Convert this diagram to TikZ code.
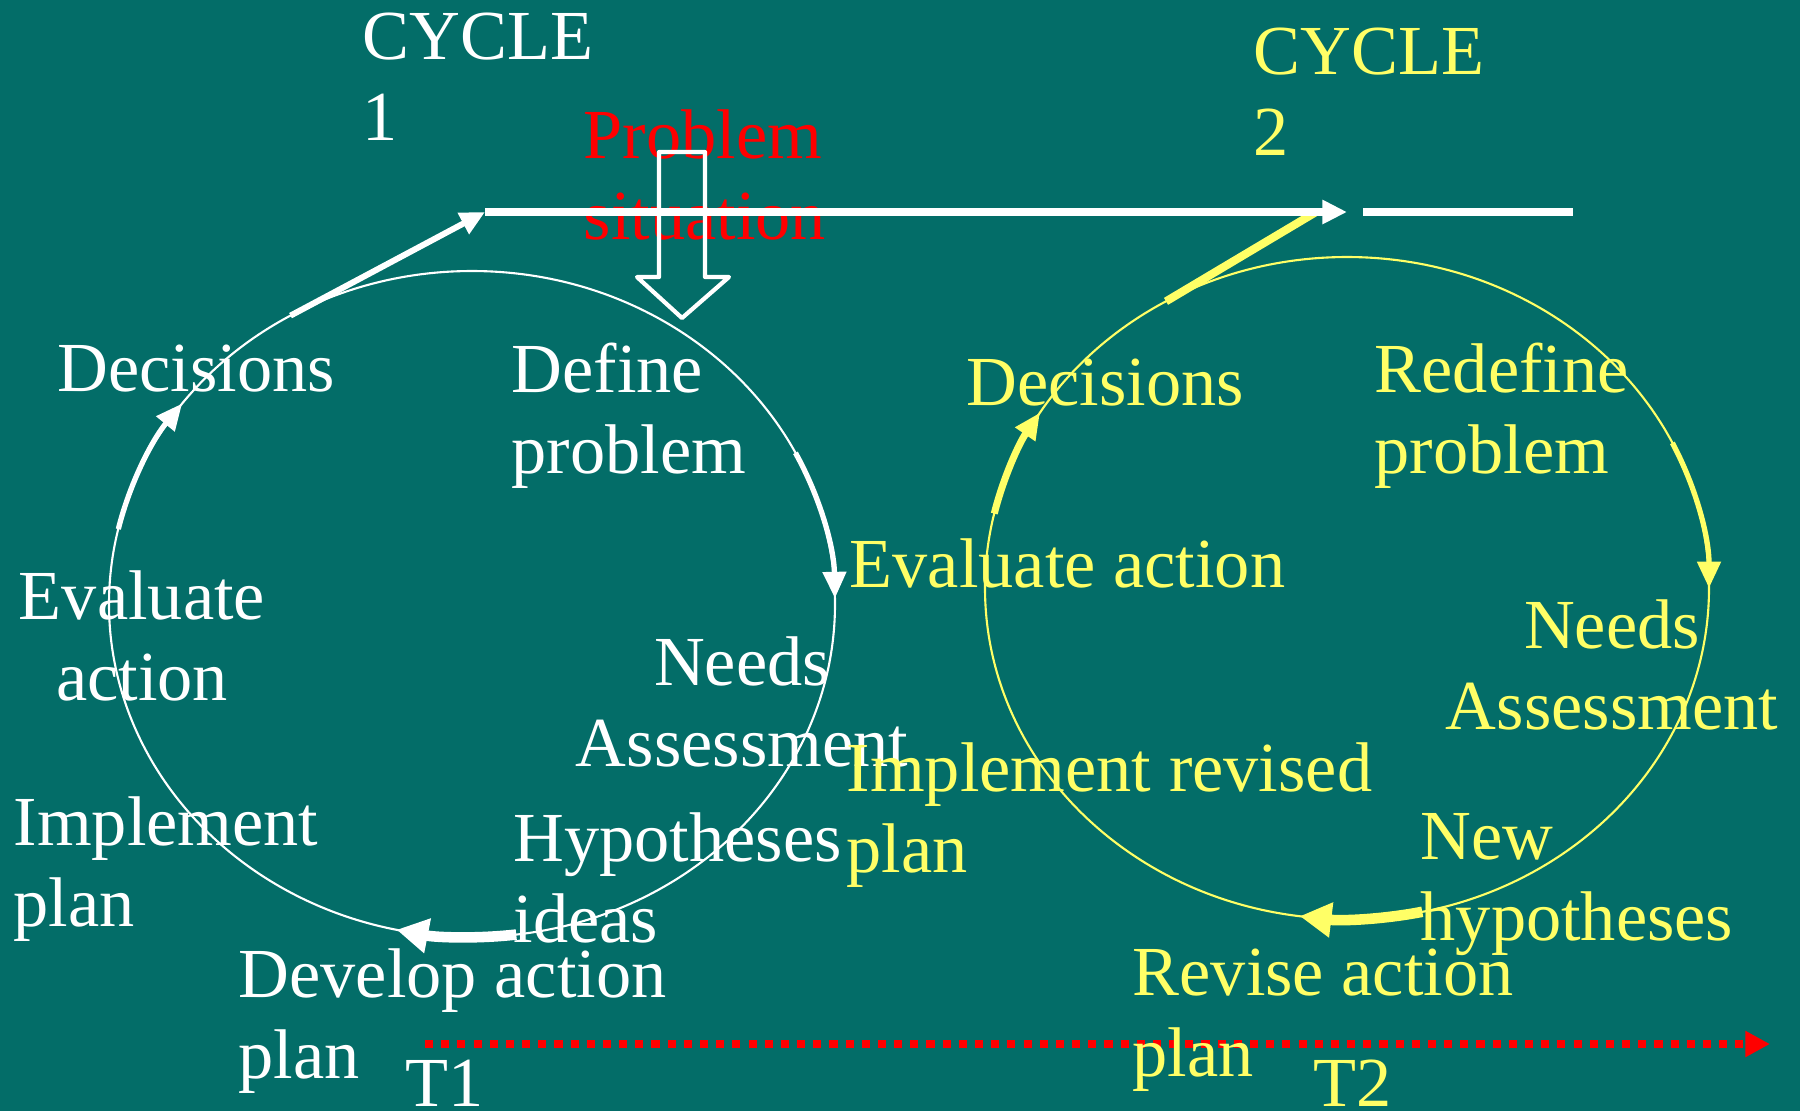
\documentclass[tikz,border=0pt]{standalone}
\usepackage{fontspec}
\setmainfont{Liberation Serif}
\usetikzlibrary{arrows.meta}
\definecolor{slidebg}{HTML}{036D68}
\definecolor{cycyellow}{HTML}{FFFF66}
\definecolor{probred}{HTML}{FF0000}

\begin{document}
\begin{tikzpicture}[x=0.01cm, y=-0.01cm,
  lbl/.style={inner sep=0pt, anchor=base west, align=left,
    font=\fontsize{20}{23}\selectfont},
  mid/.style={lbl, anchor=base, align=center},
  ring/.style={line width=0.6pt},
  cycarrow/.style={line width=1.5pt, -{Triangle[length=7.5pt, width=6.5pt]}},
  bigarrow/.style={line width=3pt, -{Triangle[length=9pt, width=9.5pt]}}]

  % --- background ---
  \fill[slidebg] (0,0) rectangle (1800,1111);
  \useasboundingbox (0,0) rectangle (1800,1111);

  % --- the two cycles ---
  \coordinate (c1) at (472,604);
  \coordinate (c2) at (1347,588);
  \draw[white, ring] (c1) ellipse [x radius=363, y radius=333];
  \draw[cycyellow, ring] (c2) ellipse [x radius=362, y radius=331];

  % --- arrows along cycle 1 ---
  \draw[white, cycarrow] ([shift={(193:363 and 333)}]c1)
    arc[start angle=193, end angle=217, x radius=363, y radius=333];
  \draw[white, cycarrow] ([shift={(-27:363 and 333)}]c1)
    arc[start angle=-27, end angle=-1, x radius=363, y radius=333];
  \draw[white, bigarrow] ([shift={(83:363 and 333)}]c1)
    arc[start angle=83, end angle=102, x radius=363, y radius=333];

  % --- arrows along cycle 2 ---
  \draw[cycyellow, cycarrow, line width=2pt] ([shift={(193:362 and 331)}]c2)
    arc[start angle=193, end angle=212, x radius=362, y radius=331];
  \draw[cycyellow, cycarrow] ([shift={(-26:362 and 331)}]c2)
    arc[start angle=-26, end angle=0, x radius=362, y radius=331];
  \draw[cycyellow, bigarrow] ([shift={(78:362 and 331)}]c2)
    arc[start angle=78, end angle=97.5, x radius=362, y radius=331];

  % --- problem situation ---
  \node[lbl, text=probred] (prob) at (583,239) {Problem\\situation};

  % --- time line ---
  \coordinate (tl1) at (485,212);
  \coordinate (tl2) at (1347,212);
  \coordinate (tl3) at (1363,212);
  \coordinate (tl4) at (1573,212);
  \draw[white, line width=1.7pt, -{Triangle[length=7pt, width=6.5pt]}]
    ([shift={(240:363 and 333)}]c1) -- (tl1);
  \draw[cycyellow, line width=2.3pt] ([shift={(240:362 and 331)}]c2) -- (1316,212);
  \draw[white, line width=2.3pt, -{Triangle[length=7pt, width=6.5pt]}] (tl1) -- (tl2);
  \draw[white, line width=2.3pt] (tl3) -- (tl4);

  % --- hollow arrow into cycle 1 ---
  \draw[white, line width=1.2pt, line join=round]
    (659,152) -- (705,152) -- (705,277) -- (729,277) -- (682,318)
    -- (637,277) -- (659,277) -- cycle;

  % --- time axis ---
  \coordinate (ax1) at (425,1044);
  \coordinate (ax2) at (1770,1044);
  \draw[probred, line width=2.3pt, dash pattern=on 2.3pt off 2.3pt,
    -{Triangle[length=7pt, width=7pt]}] (ax1) -- (ax2);

  % --- cycle 1 labels ---
  \begin{scope}[every node/.append style={text=white}]
    \node[lbl] (cyc1) at (362,140) {CYCLE\\1};
    \node[lbl] (dec1) at (57,391) {Decisions};
    \node[lbl] (def1) at (511,473) {Define\\problem};
    \node[mid] (eval1) at (142,700) {Evaluate\\action};
    \node[mid] (need1) at (742,766) {Needs\\Assessment};
    \node[lbl] (impl1) at (13,926) {Implement\\plan};
    \node[lbl] (hyp1) at (513,942) {Hypotheses\\ideas};
    \node[lbl] (dev1) at (238,1078) {Develop action\\plan};
    \node[lbl] (t1) at (405,1106) {T1};
  \end{scope}

  % --- cycle 2 labels ---
  \begin{scope}[every node/.append style={text=cycyellow}]
    \node[lbl] (cyc2) at (1253,155) {CYCLE\\2};
    \node[lbl] (dec2) at (966,405) {Decisions};
    \node[lbl] (redef2) at (1374,473) {Redefine\\problem};
    \node[lbl] (eval2) at (849,587) {Evaluate action};
    \node[mid] (need2) at (1612,729) {Needs\\Assessment};
    \node[lbl] (impl2) at (846,872) {Implement revised\\plan};
    \node[lbl] (newh2) at (1420,940) {New\\hypotheses};
    \node[lbl] (rev2) at (1132,1076) {Revise action\\plan};
    \node[lbl] (t2) at (1313,1106) {T2};
  \end{scope}
\end{tikzpicture}
\end{document}
